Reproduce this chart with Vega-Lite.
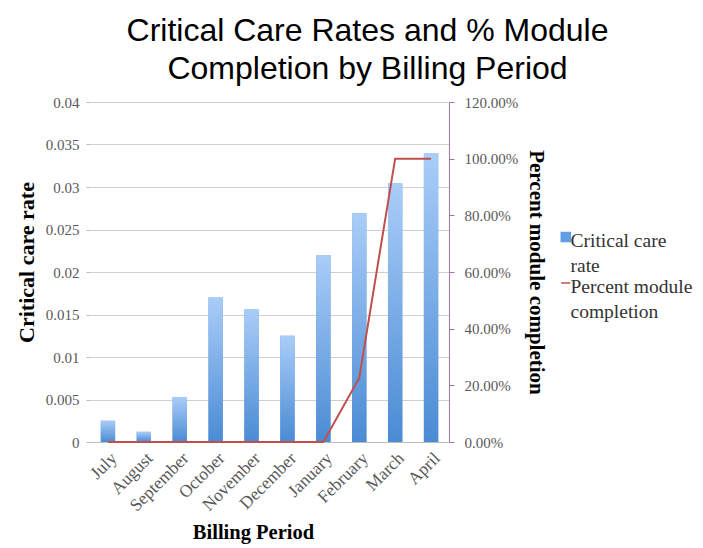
{
  "$schema": "https://vega.github.io/schema/vega-lite/v6.json",
  "width": 359,
  "height": 340,
  "autosize": {"type": "none"},
  "padding": {"left": 90, "top": 102, "right": 254, "bottom": 106},
  "background": "white",
  "title": {
    "text": ["Critical Care Rates and % Module", "Completion by Billing Period"],
    "font": "Liberation Sans",
    "fontSize": 32,
    "fontWeight": "normal",
    "color": "black",
    "lineHeight": 38,
    "anchor": "middle",
    "frame": "group",
    "dx": 98,
    "offset": 9
  },
  "data": {
    "values": [
      {"period": "July", "rate": 0.0025, "pct": 0},
      {"period": "August", "rate": 0.0012, "pct": 0},
      {"period": "September", "rate": 0.0053, "pct": 0},
      {"period": "October", "rate": 0.017, "pct": 0},
      {"period": "November", "rate": 0.0156, "pct": 0},
      {"period": "December", "rate": 0.0125, "pct": 0},
      {"period": "January", "rate": 0.022, "pct": 0},
      {"period": "February", "rate": 0.0269, "pct": 0.226},
      {"period": "March", "rate": 0.0304, "pct": 1.0},
      {"period": "April", "rate": 0.034, "pct": 1.0}
    ]
  },
  "config": {
    "view": {"stroke": null},
    "axis": {
      "labelFont": "Liberation Serif",
      "labelColor": "#595959",
      "labelFontSize": 15,
      "titleFont": "Liberation Serif",
      "titleFontSize": 21,
      "titleFontWeight": "bold",
      "titleColor": "black"
    }
  },
  "encoding": {
    "x": {
      "field": "period",
      "type": "nominal",
      "sort": null,
      "scale": {"paddingInner": 0.6, "paddingOuter": 0.3},
      "axis": {
        "title": "Billing Period",
        "titleX": 163,
        "titleFontSize": 20.5,
        "labelAngle": -45,
        "labelFontSize": 17.5,
        "ticks": false,
        "domainColor": "#bdbdbd",
        "labelPadding": 7,
        "titlePadding": 8,
        "grid": false
      }
    }
  },
  "layer": [
    {
      "layer": [
        {
          "mark": {"type": "bar"},
          "encoding": {
            "y": {
              "field": "rate",
              "type": "quantitative",
              "scale": {"domain": [0, 0.04]},
              "axis": {
                "title": "Critical care rate",
                "titleFontSize": 22,
                "titleY": 160,
                "values": [0, 0.005, 0.01, 0.015, 0.02, 0.025, 0.03, 0.035, 0.04],
                "format": "~g",
                "domain": false,
                "tickColor": "#bdbdbd",
                "tickSize": 4,
                "gridColor": "#cfcfcf",
                "labelPadding": 7,
                "titlePadding": 7
              }
            },
            "color": {
              "datum": "Critical care rate",
              "type": "nominal",
              "scale": {
                "domain": ["Critical care rate", "Percent module completion"],
                "range": ["#5f9ee6", "#c0504d"]
              },
              "legend": {
                "title": null,
                "orient": "none",
                "legendX": 466,
                "legendY": 140,
                "labelFont": "Liberation Serif",
                "labelFontSize": 19.5,
                "labelColor": "#333333",
                "labelLimit": 200,
                "symbolSize": 80,
                "rowPadding": 0,
                "labelOffset": -5,
                "labelExpr": "datum.label == 'Critical care rate' ? ['Critical care', 'rate'] : ['Percent module', 'completion']",
                "encode": {
                  "symbols": {
                    "update": {
                      "shape": {"signal": "datum.value == 'Percent module completion' ? 'stroke' : 'square'"},
                      "stroke": {"signal": "datum.value == 'Percent module completion' ? '#c0504d' : '#5f9ee6'"},
                      "strokeWidth": {"value": 1.5},
                      "fill": {"signal": "datum.value == 'Percent module completion' ? 'transparent' : '#5f9ee6'"},
                      "yc": {"value": -5}
                    }
                  },
                  "labels": {
                    "update": {"baseline": {"value": "top"}, "dy": {"value": -20}, "lineHeight": {"value": 25}}
                  }
                }
              }
            }
          }
        },
        {
          "mark": {
            "type": "bar",
            "color": {
              "gradient": "linear",
              "x1": 0, "y1": 0, "x2": 0, "y2": 1,
              "stops": [
                {"offset": 0, "color": "#aacdf8"},
                {"offset": 1, "color": "#4a8bd4"}
              ]
            }
          },
          "encoding": {
            "y": {"field": "rate", "type": "quantitative"}
          }
        }
      ]
    },
    {
      "mark": {"type": "line", "strokeWidth": 2},
      "encoding": {
        "y": {
          "field": "pct",
          "type": "quantitative",
          "scale": {"domain": [0, 1.2]},
          "axis": {
            "orient": "right",
            "title": "Percent module completion",
            "format": ".2%",
            "values": [0, 0.2, 0.4, 0.6, 0.8, 1.0, 1.2],
            "grid": false,
            "domainColor": "#a474ac",
            "tickColor": "#a474ac",
            "tickSize": 5,
            "labelPadding": 10,
            "titlePadding": 8
          }
        },
        "color": {"datum": "Percent module completion", "type": "nominal"}
      }
    }
  ],
  "resolve": {"scale": {"y": "independent"}}
}
